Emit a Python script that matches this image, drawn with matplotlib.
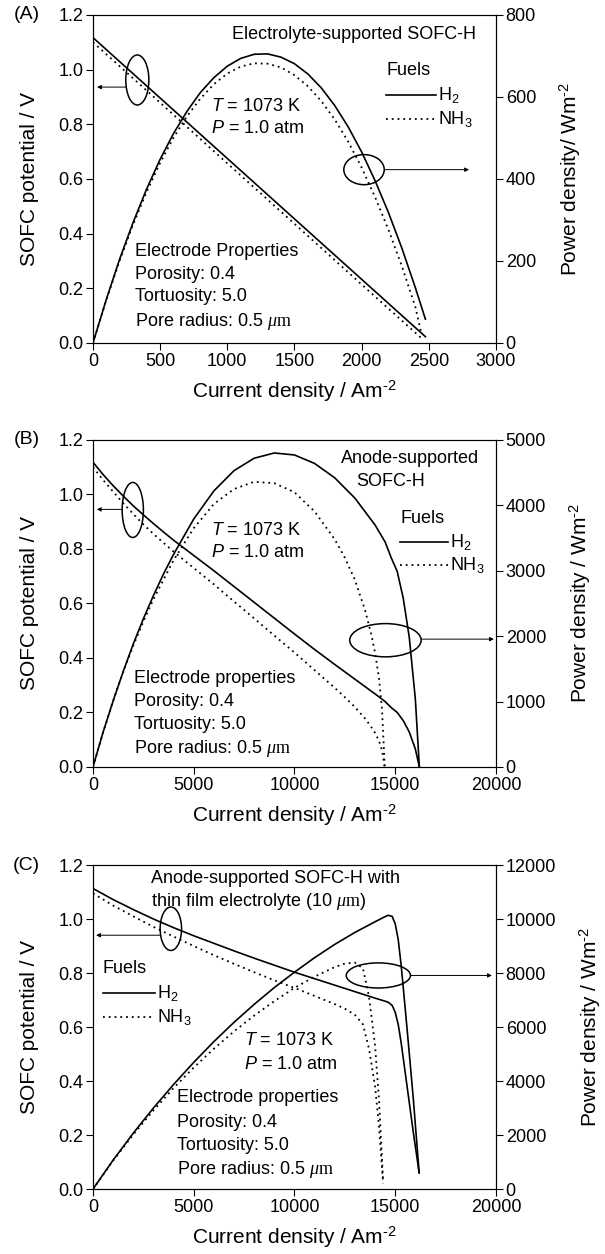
import numpy as np
import matplotlib.pyplot as plt
from matplotlib.patches import Ellipse

plt.rcParams['font.family'] = ['Liberation Sans', 'DejaVu Sans']
plt.rcParams['mathtext.fontset'] = 'custom'
plt.rcParams['mathtext.rm'] = 'Liberation Sans'
plt.rcParams['mathtext.it'] = 'Liberation Sans:italic'
plt.rcParams['mathtext.tt'] = 'Liberation Serif:italic'
plt.rcParams['mathtext.bf'] = 'Liberation Serif'

# (A) electrolyte-supported
ia_v_h2 = [0, 500, 1000, 1500, 2000, 2475]
va_h2 = [1.117, 0.896, 0.675, 0.454, 0.233, 0.023]
ia_v_nh3 = [0, 500, 1000, 1500, 2000, 2440]
va_nh3 = [1.100, 0.879, 0.657, 0.436, 0.214, 0.020]
ia_p = [0, 100, 200, 300, 400, 500, 600, 700, 800, 900, 1000, 1100, 1200, 1300,
        1400, 1500, 1600, 1700, 1800, 1900, 2000, 2100, 2200, 2300, 2400]
pa_h2 = [0, 107, 206, 295, 376, 448, 511, 565, 611, 647, 675, 694, 704, 705,
         697, 681, 656, 622, 579, 527, 466, 396, 318, 231, 135]
pa_nh3 = [0, 106, 202, 290, 369, 439, 501, 553, 596, 631, 657, 674, 682, 681,
          672, 653, 626, 590, 545, 491, 428, 356, 276, 187, 88]
pa_end = [(2475, 58), (2440, 30)]

# (B) anode-supported
ib_h2 = [0, 500, 1000, 1500, 2000, 2500, 3000, 3500, 4000, 5000, 6000, 7000, 8000, 9000,
         10000, 11000, 12000, 13000, 14000, 14500, 14800, 15100, 15400, 15700, 16000, 16200]
vb_h2 = [1.118, 1.073, 1.032, 0.994, 0.958, 0.925, 0.893, 0.862, 0.832, 0.776, 0.720, 0.662,
         0.604, 0.546, 0.488, 0.431, 0.376, 0.322, 0.268, 0.240, 0.218, 0.200, 0.170, 0.128,
         0.066, 0.0]
pb_h2 = [0, 530, 1010, 1460, 1880, 2265, 2620, 2950, 3250, 3790, 4220, 4530, 4720, 4800,
         4770, 4640, 4420, 4110, 3700, 3440, 3200, 2990, 2580, 1980, 1040, 0]
ib_nh3 = [0, 500, 1000, 1500, 2000, 2500, 3000, 4000, 5000, 6000, 7000, 8000, 9000, 10000,
          11000, 12000, 12500, 13000, 13500, 13800, 14000, 14200, 14350, 14480]
vb_nh3 = [1.100, 1.053, 1.010, 0.968, 0.928, 0.890, 0.855, 0.790, 0.730, 0.670, 0.607, 0.545,
          0.482, 0.420, 0.355, 0.290, 0.256, 0.220, 0.178, 0.148, 0.125, 0.095, 0.060, 0.0]
pb_nh3 = [0, 527, 1010, 1452, 1856, 2225, 2565, 3160, 3650, 4020, 4249, 4360, 4338, 4200,
          3905, 3480, 3200, 2860, 2403, 2042, 1750, 1349, 861, 0]

# (C) anode-supported, thin film electrolyte
ic_h2 = [0, 1000, 2000, 3000, 4000, 5000, 6000, 7000, 8000, 9000, 10000, 11000, 12000,
         13000, 14000, 14400, 14650, 14850, 15000, 15150, 15300, 15500, 15700, 15900, 16190]
vc_h2 = [1.113, 1.072, 1.035, 1.000, 0.968, 0.938, 0.910, 0.882, 0.855, 0.829, 0.803, 0.779,
         0.755, 0.731, 0.707, 0.698, 0.692, 0.680, 0.655, 0.610, 0.540, 0.430, 0.320, 0.210,
         0.060]
pc_h2 = [0, 1072, 2070, 3000, 3872, 4690, 5460, 6174, 6840, 7461, 8030, 8569, 9060,
         9503, 9898, 10051, 10138, 10098, 9825, 9242, 8262, 6665, 5024, 3339, 600]
ic_nh3 = [0, 1000, 2000, 3000, 4000, 5000, 6000, 7000, 8000, 9000, 10000, 11000, 12000,
          12500, 13000, 13400, 13700, 14000, 14200, 14400]
vc_nh3 = [1.095, 1.050, 1.010, 0.971, 0.935, 0.900, 0.866, 0.834, 0.803, 0.773, 0.745, 0.715,
          0.685, 0.668, 0.645, 0.610, 0.520, 0.380, 0.230, 0.020]
pc_nh3 = [0, 1050, 2020, 2913, 3740, 4500, 5196, 5838, 6424, 6957, 7450, 7865, 8220,
          8350, 8385, 8174, 7124, 5320, 3266, 288]

dots = (0, (1, 2.2))
fs = 13
sup = r'$^{\text{-}2}$'

fig = plt.figure(figsize=(6.05, 12.54), dpi=100)


def panel(rect, xmax, xticks, pmax, pticks, vdata, pdata, tag, rlabel):
    ax = fig.add_axes(rect)
    ax2 = ax.twinx()
    i1, v1, i2, v2 = vdata
    j1, p1, j2, p2 = pdata
    ax.plot(i1, v1, color='k', lw=1.2)
    ax.plot(i2, v2, color='k', lw=1.3, linestyle=dots)
    ax2.plot(j1, p1, color='k', lw=1.2)
    ax2.plot(j2, p2, color='k', lw=1.3, linestyle=dots)
    ax.set_xlim(0, xmax)
    ax.set_ylim(0, 1.2)
    ax2.set_ylim(0, pmax)
    ax.set_xticks(xticks)
    ax.set_yticks(np.arange(0, 1.21, 0.2))
    ax.set_yticklabels(['%.1f' % t for t in np.arange(0, 1.21, 0.2)])
    ax2.set_yticks(pticks)
    for a in (ax, ax2):
        a.tick_params(direction='out', length=5, width=0.8, labelsize=fs, pad=2)
        for s in a.spines.values():
            s.set_linewidth(0.8)
    ax.set_xlabel('Current density / Am' + sup, fontsize=fs + 2, labelpad=6)
    ax.set_ylabel('SOFC potential / V', fontsize=fs + 2, labelpad=14)
    ax2.set_ylabel(rlabel, fontsize=fs + 2, labelpad=15)
    ax.text(-0.165, 1.0, tag, transform=ax.transAxes, fontsize=fs + 1,
            ha='center', va='center')
    return ax


def mark(ax, cx, cy, w, h, x0, x1, y):
    ax.add_patch(Ellipse((cx, cy), w, h, fill=False, lw=1.1, color='k'))
    ax.annotate('', xy=(x1, y), xytext=(x0, y),
                arrowprops=dict(arrowstyle='-|>', lw=0.7, color='k',
                                mutation_scale=6, shrinkA=0, shrinkB=0))


def fuels(ax, x, y0, dx, dy, xmax):
    ax.text(x, y0, 'Fuels', fontsize=fs, va='center')
    ax.plot([x, x + dx], [y0 - dy, y0 - dy], color='k', lw=1.2)
    ax.plot([x, x + dx], [y0 - 2 * dy, y0 - 2 * dy], color='k', lw=1.3, linestyle=dots)
    ax.text(x + dx + 0.004 * xmax, y0 - dy, 'H$_2$', fontsize=fs, va='center')
    ax.text(x + dx + 0.004 * xmax, y0 - 2 * dy, 'NH$_3$', fontsize=fs, va='center')


def props(ax, x, ys, title):
    lines = [title, 'Porosity: 0.4', 'Tortuosity: 5.0',
             r'Pore radius: 0.5 $\mathtt{\mu}\mathbf{m}$']
    for s, y in zip(lines, ys):
        ax.text(x, y, s, fontsize=fs, va='center')


def cond(ax, x, y1, y2):
    ax.text(x, y1, r'$\mathit{T}$ = 1073 K', fontsize=fs, va='center')
    ax.text(x, y2, r'$\mathit{P}$ = 1.0 atm', fontsize=fs, va='center')


# panel A
axA = panel([0.1537, 0.7265, 0.666, 0.2616], 3000, range(0, 3001, 500), 800,
            range(0, 801, 200), (ia_v_h2, va_h2, ia_v_nh3, va_nh3),
            (ia_p + [pa_end[0][0]], pa_h2 + [pa_end[0][1]],
             ia_p + [pa_end[1][0]], pa_nh3 + [pa_end[1][1]]),
            '(A)', 'Power density/ Wm' + sup)
axA.text(1940, 1.127, 'Electrolyte-supported SOFC-H', fontsize=fs, ha='center', va='center')
fuels(axA, 2182, 0.995, 373, 0.087, 3000)
cond(axA, 876, 0.865, 0.786)
props(axA, 316, [0.335, 0.250, 0.171, 0.079], 'Electrode Properties')
mark(axA, 330, 0.962, 172, 0.183, 250, 30, 0.936)
mark(axA, 2018, 0.634, 301, 0.11, 2170, 2800, 0.634)

# panel B
axB = panel([0.1537, 0.3884, 0.666, 0.2608], 20000, range(0, 20001, 5000), 5000,
            range(0, 5001, 1000), (ib_h2, vb_h2, ib_nh3, vb_nh3),
            (ib_h2, pb_h2, ib_nh3, pb_nh3), '(B)', 'Power density / Wm' + sup)
axB.text(15724, 1.133, 'Anode-supported', fontsize=fs, ha='center', va='center')
axB.text(14765, 1.047, 'SOFC-H', fontsize=fs, ha='center', va='center')
fuels(axB, 15244, 0.910, 2397, 0.085, 20000)
cond(axB, 5849, 0.869, 0.786)
props(axB, 2013, [0.324, 0.239, 0.157, 0.067], 'Electrode properties')
mark(axB, 1975, 0.943, 1055, 0.202, 1450, 190, 0.945)
mark(axB, 14516, 0.465, 3547, 0.122, 16300, 19900, 0.469)

# panel C
axC = panel([0.1537, 0.0518, 0.666, 0.2584], 20000, range(0, 20001, 5000), 12000,
            range(0, 12001, 2000), (ic_h2, vc_h2, ic_nh3, vc_nh3),
            (ic_h2, pc_h2, ic_nh3, pc_nh3), '(C)', 'Power density / Wm' + sup)
axC.text(2860, 1.150, 'Anode-supported SOFC-H with', fontsize=fs, va='center')
axC.text(2860, 1.064, r'thin film electrolyte (10 $\mathtt{\mu}\mathbf{m}$)', fontsize=fs,
         va='center')
fuels(axC, 483, 0.816, 2609, 0.09, 20000)
cond(axC, 7498, 0.549, 0.462)
props(axC, 4155, [0.338, 0.248, 0.161, 0.074], 'Electrode properties')
mark(axC, 3865, 0.964, 1063, 0.161, 3330, 155, 0.940)
mark(axC, 14164, 0.791, 3188, 0.093, 15790, 19800, 0.791)

fig.savefig('out.png', dpi=100)
